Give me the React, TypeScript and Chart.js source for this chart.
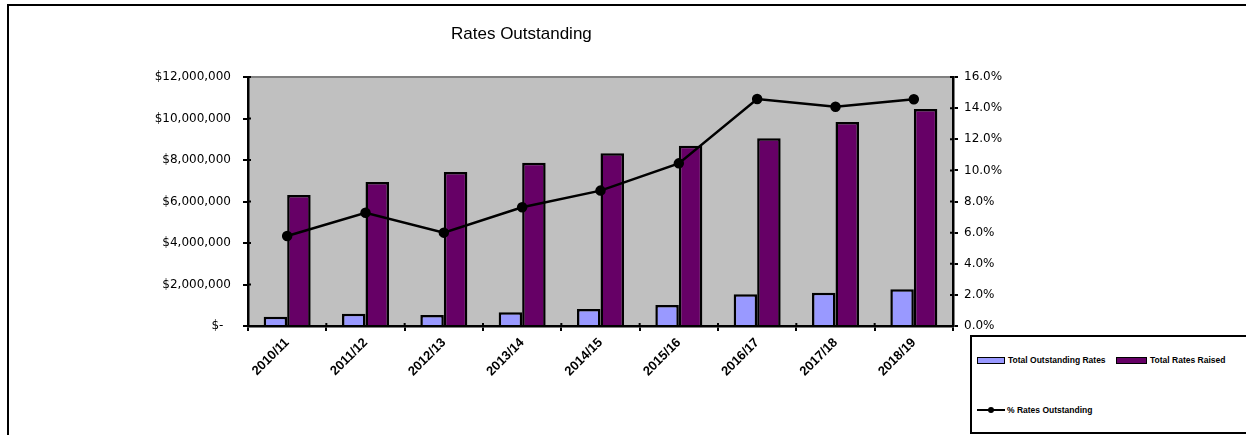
import React, { useEffect, useRef } from "react";
import { Chart, registerables } from "chart.js";

Chart.register(...registerables);

const categories = ["2010/11", "2011/12", "2012/13", "2013/14", "2014/15", "2015/16", "2016/17", "2017/18", "2018/19"];
const totalOutstandingRates = [450000, 590000, 530000, 660000, 820000, 1010000, 1530000, 1600000, 1770000];
const totalRatesRaised = [6310000, 6940000, 7420000, 7870000, 8320000, 8690000, 9050000, 9830000, 10460000];
const pctRatesOutstanding = [5.78, 7.28, 6.0, 7.63, 8.7, 10.45, 14.59, 14.09, 14.57];

const titleText = "Rates Outstanding";
const legendLabels = ["Total Outstanding Rates", "Total Rates Raised", "% Rates Outstanding"];

const LIGHT = "#9999FF";
const DARK = "#660066";

function fmtMoney(v: number) {
  if (v === 0) return "$-  ";
  return "$" + v.toLocaleString("en-US");
}

export default function App() {
  const ref = useRef<HTMLCanvasElement | null>(null);

  useEffect(() => {
    if (!ref.current) return;
    const bgPlugin = {
      id: "plotBg",
      beforeDraw(chart: any) {
        const { ctx, chartArea } = chart;
        ctx.save();
        ctx.fillStyle = "#C0C0C0";
        ctx.fillRect(chartArea.left, chartArea.top, chartArea.right - chartArea.left, chartArea.bottom - chartArea.top);
        ctx.strokeStyle = "#808080";
        ctx.lineWidth = 2;
        ctx.beginPath();
        ctx.moveTo(chartArea.left, chartArea.top);
        ctx.lineTo(chartArea.right, chartArea.top);
        ctx.stroke();
        ctx.fillStyle = "#000";
        ctx.font = '17px "Liberation Sans", Arial, sans-serif';
        ctx.textBaseline = "alphabetic";
        ctx.textAlign = "left";
        ctx.fillText(titleText, 451, 39);
        ctx.restore();
      },
      afterDraw(chart: any) {
        const { ctx, chartArea } = chart;
        const inner = 3;
        ctx.save();
        ctx.strokeStyle = "#000";
        ctx.lineWidth = 2;
        ctx.beginPath();
        const y = chart.scales.y;
        y.ticks.forEach((_t: any, i: number) => {
          const py = y.getPixelForTick(i);
          ctx.moveTo(chartArea.left, py);
          ctx.lineTo(chartArea.left + inner, py);
        });
        const y1 = chart.scales.y1;
        y1.ticks.forEach((_t: any, i: number) => {
          const py = y1.getPixelForTick(i);
          ctx.moveTo(chartArea.right, py);
          ctx.lineTo(chartArea.right - inner, py);
        });
        const n = categories.length;
        for (let i = 0; i <= n; i++) {
          const px = chartArea.left + (i * (chartArea.right - chartArea.left)) / n;
          ctx.moveTo(px, chartArea.bottom);
          ctx.lineTo(px, chartArea.bottom - inner);
        }
        ctx.stroke();
        ctx.restore();
      },
    };

    const chart = new Chart(ref.current, {
      type: "bar",
      data: {
        labels: categories,
        datasets: [
          {
            type: "line",
            label: legendLabels[2],
            data: pctRatesOutstanding,
            yAxisID: "y1",
            borderColor: "#000",
            backgroundColor: "#000",
            borderWidth: 2.5,
            pointRadius: 4,
            pointBackgroundColor: "#000",
            pointBorderColor: "#000",
            tension: 0,
            order: 0,
          } as any,
          {
            type: "bar",
            label: legendLabels[0],
            data: totalOutstandingRates,
            yAxisID: "y",
            backgroundColor: LIGHT,
            borderColor: "#000",
            borderWidth: 2.5,
            categoryPercentage: 0.6,
            barPercentage: 1,
            order: 1,
          },
          {
            type: "bar",
            label: legendLabels[1],
            data: totalRatesRaised,
            yAxisID: "y",
            backgroundColor: DARK,
            borderColor: "#000",
            borderWidth: 2.5,
            categoryPercentage: 0.6,
            barPercentage: 1,
            order: 1,
          },
        ],
      },
      options: {
        animation: false,
        responsive: false,
        layout: { padding: { top: 77, left: 0, right: 0, bottom: 0 } },
        plugins: {
          legend: { display: false },
          title: { display: false },
          tooltip: { enabled: false },
        },
        scales: {
          x: {
            afterFit(scale: any) {
              scale.height = 109;
            },
            grid: {
              display: true,
              drawOnChartArea: false,
              drawTicks: true,
              tickLength: 5,
              tickColor: "#000",
              lineWidth: 2,
              offset: true,
            },
            border: { display: true, color: "#000", width: 2.5 },
            ticks: {
              color: "#000",
              minRotation: 45,
              maxRotation: 45,
              autoSkip: false,
              padding: 4,
              font: { family: '"Liberation Sans", Arial, sans-serif', size: 13, weight: "bold" },
            },
          },
          y: {
            position: "left",
            min: 0,
            max: 12000000,
            afterFit(scale: any) {
              scale.width = 248;
            },
            grid: {
              display: true,
              drawOnChartArea: false,
              drawTicks: true,
              tickLength: 5,
              tickColor: "#000",
              lineWidth: 2,
            },
            border: { display: true, color: "#000", width: 2.5 },
            ticks: {
              stepSize: 2000000,
              color: "#000",
              padding: 12,
              font: { family: '"DejaVu Sans", Verdana, sans-serif', size: 12 },
              callback: (v: any) => fmtMoney(Number(v)),
            },
          },
          y1: {
            position: "right",
            min: 0,
            max: 16,
            afterFit(scale: any) {
              scale.width = 293;
            },
            grid: {
              display: true,
              drawOnChartArea: false,
              drawTicks: true,
              tickLength: 5,
              tickColor: "#000",
              lineWidth: 2,
            },
            border: { display: true, color: "#000", width: 2.5 },
            ticks: {
              stepSize: 2,
              color: "#000",
              padding: 6,
              font: { family: '"DejaVu Sans", Verdana, sans-serif', size: 12 },
              callback: (v: any) => Number(v).toFixed(1) + "%",
            },
          },
        },
      },
      plugins: [bgPlugin],
    });
    return () => chart.destroy();
  }, []);

  const legendFont: React.CSSProperties = {
    position: "absolute",
    font: 'bold 8.5px "Liberation Sans", Arial, sans-serif',
    color: "#000",
    whiteSpace: "nowrap",
    lineHeight: "10px",
  };

  return (
    <div style={{ position: "fixed", left: 0, top: 0, width: 1246, height: 435, background: "#fff", overflow: "hidden" }}>
      <canvas ref={ref} width={1246} height={435} style={{ position: "absolute", left: 0, top: 0, width: 1246, height: 435 }} />
      <div
        style={{
          position: "absolute",
          left: 7,
          top: 4,
          width: 1260,
          height: 460,
          border: "2px solid #000",
          pointerEvents: "none",
        }}
      />
      <div
        style={{
          position: "absolute",
          left: 970,
          top: 335,
          width: 300,
          height: 95,
          border: "2px solid #000",
          background: "#fff",
        }}
      >
        <div style={{ position: "absolute", left: 5, top: 20, width: 26, height: 5, background: LIGHT, border: "1px solid #000" }} />
        <div style={{ ...legendFont, left: 36, top: 18 }}>{legendLabels[0]}</div>
        <div style={{ position: "absolute", left: 144, top: 20, width: 29, height: 5, background: DARK, border: "1px solid #000" }} />
        <div style={{ ...legendFont, left: 178, top: 18 }}>{legendLabels[1]}</div>
        <div style={{ position: "absolute", left: 5, top: 72, width: 28, height: 2, background: "#000" }} />
        <div style={{ position: "absolute", left: 16, top: 70, width: 6, height: 6, borderRadius: 3, background: "#000" }} />
        <div style={{ ...legendFont, left: 35, top: 68 }}>{legendLabels[2]}</div>
      </div>
    </div>
  );
}
